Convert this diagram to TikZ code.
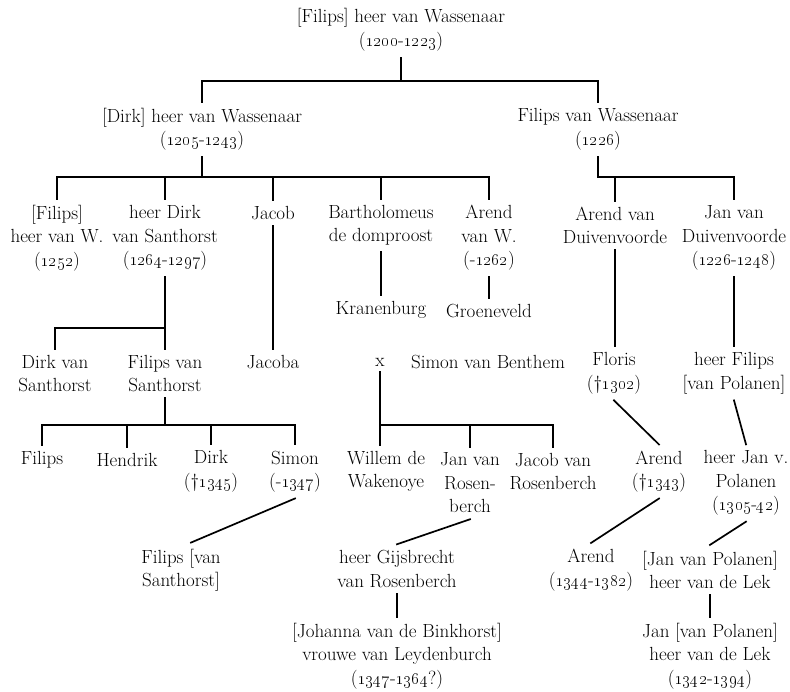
\documentclass[tikz,border=0pt]{standalone}
\usepackage{tikz}
\usetikzlibrary{calc}
\newcommand\yr[1]{\oldstylenums{#1}}

\begin{document}
\begin{tikzpicture}[x=1pt,y=-1pt,
  person/.style={align=center,inner xsep=2pt,inner ysep=6pt,font=\fontsize{19}{23.5}\selectfont},
  kin/.style={line width=1.7pt,line cap=rect}]
  \useasboundingbox (0,0) rectangle (790,691);
  % stamvader en zonen
  \node[person] (root) at (401,30) {[Filips] heer van Wassenaar\\(\yr{1200}-\yr{1223})};
  \node[person] (dirk) at (202,129.5) {[Dirk] heer van Wassenaar\\(\yr{1205}-\yr{1243})};
  \node[person] (filipsw) at (598,129.5) {Filips van Wassenaar\\(\yr{1226})};
  % derde generatie
  \node[person] (filipshw) at (57,238) {[Filips]\\heer van W.\\(\yr{1252})};
  \node[person] (dirks) at (165,238) {heer Dirk\\van Santhorst\\(\yr{1264}-\yr{1297})};
  \node[person] (jacob) at (273,213) {Jacob};
  \node[person] (barth) at (381,225.5) {Bartholomeus\\de domproost};
  \node[person] (arendw) at (489,238) {Arend\\van W.\\(-\yr{1262})};
  \node[person] (arendd) at (615,225.5) {Arend van\\Duivenvoorde};
  \node[person] (jand) at (734,238) {Jan van\\Duivenvoorde\\(\yr{1226}-\yr{1248})};
  \node[person] (kranen) at (381,310) {Kranenburg};
  \node[person] (groen) at (489,311) {Groeneveld};
  % vierde generatie
  \node[person] (dirkvs) at (55,373.5) {Dirk van\\Santhorst};
  \node[person] (filipsvs) at (165,373.5) {Filips van\\Santhorst};
  \node[person] (jacoba) at (273,362) {Jacoba};
  \node[person] (x) at (380,362) {x};
  \node[person] (benthem) at (488,362) {Simon van Benthem};
  \node[person] (floris) at (614,373.5) {Floris\\(\textdagger\yr{1302})};
  \node[person] (filipsp) at (734,373.5) {heer Filips\\{}[van Polanen]};
  % vijfde generatie
  \node[person] (filips) at (42,460) {Filips};
  \node[person] (hendrik) at (127,460) {Hendrik};
  \node[person] (dirkd) at (211,471.5) {Dirk\\(\textdagger\yr{1345})};
  \node[person] (simon) at (295,471.5) {Simon\\(-\yr{1347})};
  \node[person] (willem) at (386,471.5) {Willem de\\Wakenoye};
  \node[person] (janr) at (470,483) {Jan van\\Rosen-\\berch};
  \node[person] (jacobr) at (553,471.5) {Jacob van\\Rosenberch};
  \node[person] (arend43) at (659,471.5) {Arend\\(\textdagger\yr{1343})};
  \node[person] (janp) at (746,483) {heer Jan v.\\Polanen\\(\yr{1305}-\yr{42})};
  % zesde en zevende generatie
  \node[person] (filipsvs2) at (181,570) {Filips [van\\Santhorst]};
  \node[person] (gijs) at (397,569) {heer Gijsbrecht\\van Rosenberch};
  \node[person] (arend82) at (591,570) {Arend\\(\yr{1344}-\yr{1382})};
  \node[person] (lek) at (710,570) {[Jan van Polanen]\\heer van de Lek};
  \node[person] (johanna) at (397,656) {[Johanna van de Binkhorst]\\vrouwe van Leydenburch\\(\yr{1347}-\yr{1364}?)};
  \node[person] (janlek) at (710,656) {Jan [van Polanen]\\heer van de Lek\\(\yr{1342}-\yr{1394})};

  % hoogte van de dwarsbalken
  \coordinate (bar0) at (root.south |- 0,81);
  \coordinate (bar1) at (dirk.south |- 0,177);
  \coordinate (bar2) at (filipsw.south |- 0,177);
  \coordinate (bar3) at (dirks.south |- 0,328);
  \coordinate (bar4) at (filipsvs.south |- 0,425);
  \coordinate (bar5) at (x.south |- 0,425);

  \draw[kin] (root.south) -- (bar0);
  \foreach \kid in {dirk,filipsw}
    \draw[kin] (bar0) -| (\kid.north);
  \draw[kin] (dirk.south) -- (bar1);
  \foreach \kid in {filipshw,dirks,jacob,barth,arendw}
    \draw[kin] (bar1) -| (\kid.north);
  \draw[kin] (filipsw.south) -- (bar2);
  \foreach \kid in {arendd,jand}
    \draw[kin] (bar2) -| (\kid.north);
  \draw[kin] (dirks.south) -- (bar3);
  \foreach \kid in {dirkvs,filipsvs}
    \draw[kin] (bar3) -| (\kid.north);
  \draw[kin] (filipsvs.south) -- (bar4);
  \foreach \kid in {filips,hendrik,dirkd,simon}
    \draw[kin] (bar4) -| (\kid.north);
  \draw[kin] (x.south) -- (x.south |- willem.north);
  \foreach \kid in {janr,jacobr}
    \draw[kin] (bar5) -| (\kid.north);
  % enkele afstammingslijnen
  \draw[kin] (jacob.south) -- (jacob.south |- jacoba.north);
  \draw[kin] (barth.south) -- (barth.south |- kranen.north);
  \draw[kin] (arendw.south) -- (arendw.south |- groen.north);
  \draw[kin] (arendd.south) -- (arendd.south |- floris.north);
  \draw[kin] (jand.south) -- (jand.south |- filipsp.north);
  \draw[kin] (floris.south) -- (arend43.north);
  \draw[kin] (filipsp.south) -- (janp.north);
  \draw[kin] (simon.south) -- (filipsvs2.70);
  \draw[kin] (janr.south) -- (gijs.north);
  \draw[kin] (arend43.south) -- (arend82.north);
  \draw[kin] (janp.south) -- (lek.north);
  \draw[kin] (gijs.south) -- (johanna.north);
  \draw[kin] (lek.south) -- (janlek.north);
\end{tikzpicture}
\end{document}
